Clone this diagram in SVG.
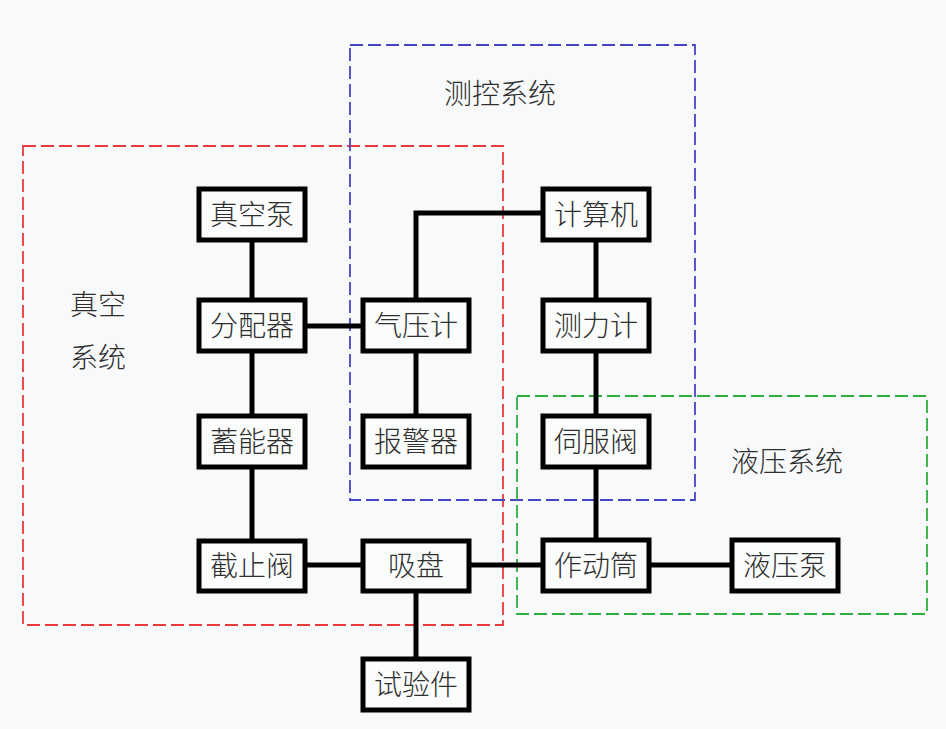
<svg xmlns="http://www.w3.org/2000/svg" width="946" height="729" viewBox="0 0 946 729">
<style>
.bg{fill:#f8f9fa}
.box{fill:#fbfcfc;stroke:#000;stroke-width:5}
.lbl{font-family:"Noto Sans CJK SC","Noto Sans CJK JP",sans-serif;font-size:28px;font-weight:300;fill:#2e2e2e;text-anchor:middle}
.wire{stroke:#000;stroke-width:5;fill:none}
.grp{fill:none;stroke-width:1.8;stroke-dasharray:13 5}
</style>
<rect class="bg" x="0" y="0" width="946" height="729"/>
<g id="groups">
<rect class="grp" x="23" y="146" width="480" height="479" stroke="#e83a3a"/>
<rect class="grp" x="350" y="45" width="345" height="455" stroke="#4545c4"/>
<rect class="grp" x="517" y="396" width="410" height="218" stroke="#2fae3f"/>
<text class="lbl" x="500" y="104">测控系统</text>
<text class="lbl" x="98" y="315">真空</text>
<text class="lbl" x="98" y="368">系统</text>
<text class="lbl" x="787" y="472">液压系统</text>
</g>
<g id="connectors">
<line class="wire" x1="252" y1="240" x2="252" y2="300"/>
<line class="wire" x1="252" y1="351" x2="252" y2="416"/>
<line class="wire" x1="252" y1="467" x2="252" y2="541"/>
<line class="wire" x1="305" y1="326" x2="363" y2="326"/>
<polyline class="wire" points="416,300 416,213 543,213"/>
<line class="wire" x1="416" y1="351" x2="416" y2="416"/>
<line class="wire" x1="305" y1="565" x2="363" y2="565"/>
<line class="wire" x1="416" y1="591" x2="416" y2="659"/>
<line class="wire" x1="469" y1="565" x2="543" y2="565"/>
<line class="wire" x1="596" y1="240" x2="596" y2="300"/>
<line class="wire" x1="596" y1="351" x2="596" y2="416"/>
<line class="wire" x1="596" y1="467" x2="596" y2="540"/>
<line class="wire" x1="649" y1="565" x2="732" y2="565"/>
</g>
<g id="n_zkb"><rect class="box" x="199" y="189" width="106" height="51"/><text class="lbl" x="252" y="225">真空泵</text></g>
<g id="n_fpq"><rect class="box" x="199" y="300" width="106" height="51"/><text class="lbl" x="252" y="336">分配器</text></g>
<g id="n_xnq"><rect class="box" x="199" y="416" width="106" height="51"/><text class="lbl" x="252" y="452">蓄能器</text></g>
<g id="n_jzf"><rect class="box" x="199" y="541" width="106" height="50"/><text class="lbl" x="252" y="576">截止阀</text></g>
<g id="n_qyj"><rect class="box" x="363" y="300" width="106" height="51"/><text class="lbl" x="416" y="336">气压计</text></g>
<g id="n_bjq"><rect class="box" x="363" y="416" width="106" height="51"/><text class="lbl" x="416" y="452">报警器</text></g>
<g id="n_xp"><rect class="box" x="363" y="541" width="106" height="50"/><text class="lbl" x="416" y="576">吸盘</text></g>
<g id="n_syj"><rect class="box" x="363" y="659" width="106" height="51"/><text class="lbl" x="416" y="695">试验件</text></g>
<g id="n_jsj"><rect class="box" x="543" y="189" width="106" height="51"/><text class="lbl" x="596" y="225">计算机</text></g>
<g id="n_clj"><rect class="box" x="543" y="300" width="106" height="51"/><text class="lbl" x="596" y="336">测力计</text></g>
<g id="n_sff"><rect class="box" x="543" y="416" width="106" height="51"/><text class="lbl" x="596" y="452">伺服阀</text></g>
<g id="n_zdt"><rect class="box" x="543" y="540" width="106" height="51"/><text class="lbl" x="596" y="576">作动筒</text></g>
<g id="n_yyb"><rect class="box" x="732" y="540" width="106" height="51"/><text class="lbl" x="785" y="576">液压泵</text></g>
</svg>
